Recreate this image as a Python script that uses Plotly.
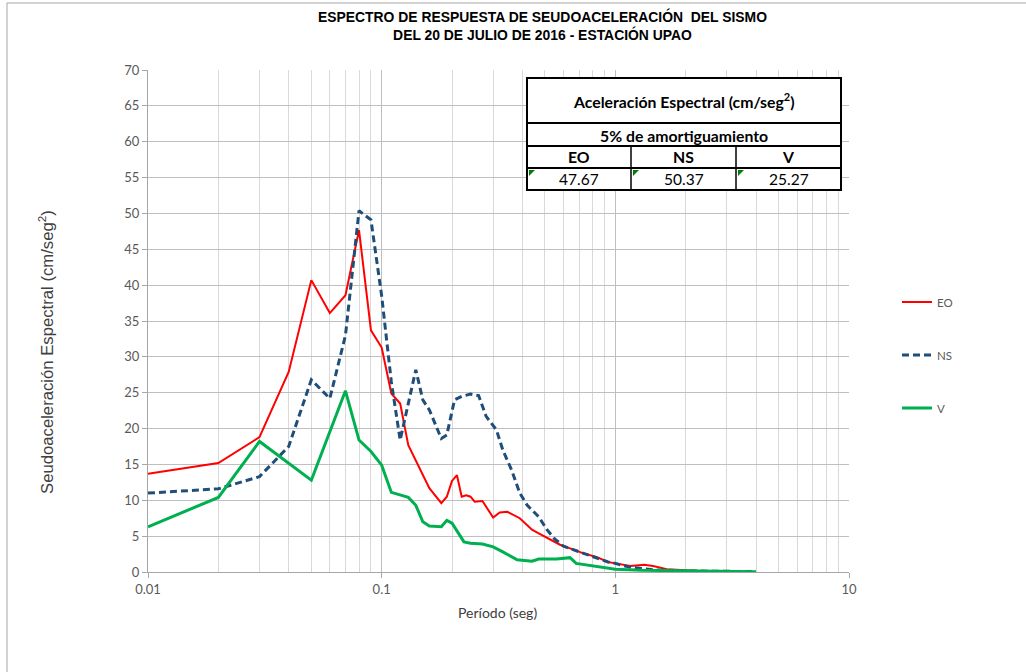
import plotly.graph_objects as go

# ---------------- data ----------------
T_EO = [0.01, 0.02, 0.03, 0.04, 0.05, 0.06, 0.07, 0.08, 0.09, 0.10, 0.11, 0.12, 0.13, 0.145,
        0.16, 0.18, 0.19, 0.20, 0.21, 0.22, 0.23, 0.24, 0.25, 0.27, 0.30, 0.32, 0.345, 0.39,
        0.44, 0.47, 0.52, 0.58, 0.64, 0.73, 0.83, 0.93, 1.0, 1.16, 1.33, 1.45, 1.66, 2.0, 2.3]
EO = [13.7, 15.2, 18.8, 27.9, 40.7, 36.1, 38.6, 47.67, 33.7, 31.3, 24.9, 23.5, 17.7, 14.5,
      11.7, 9.6, 10.5, 12.7, 13.5, 10.5, 10.7, 10.5, 9.8, 9.9, 7.6, 8.3, 8.4, 7.5,
      5.9, 5.4, 4.6, 3.8, 3.3, 2.6, 2.1, 1.4, 1.2, 0.84, 1.0, 0.84, 0.4, 0.25, 0.15]

T_NS = [0.01, 0.02, 0.03, 0.04, 0.05, 0.06, 0.07, 0.08, 0.09, 0.10, 0.11, 0.12, 0.14, 0.15,
        0.16, 0.18, 0.19, 0.205, 0.22, 0.24, 0.26, 0.28, 0.31, 0.33, 0.36, 0.39, 0.42, 0.47,
        0.51, 0.55, 0.60, 0.70, 0.80, 0.93, 1.0, 1.16, 1.45, 2.0, 4.0]
NS = [11.0, 11.6, 13.3, 17.5, 26.8, 24.2, 33.0, 50.37, 49.1, 38.5, 26.5, 18.4, 28.2, 24.0,
      22.6, 18.6, 19.1, 24.0, 24.5, 24.8, 24.6, 21.7, 19.8, 17.0, 14.2, 11.0, 9.3, 7.7,
      5.9, 4.6, 3.6, 2.8, 2.1, 1.4, 1.2, 0.65, 0.3, 0.15, 0.05]

T_V = [0.01, 0.02, 0.03, 0.05, 0.07, 0.08, 0.09, 0.10, 0.11, 0.13, 0.14, 0.15, 0.16, 0.18,
       0.19, 0.20, 0.225, 0.24, 0.27, 0.30, 0.33, 0.38, 0.44, 0.47, 0.56, 0.64, 0.68, 0.75,
       0.93, 1.0, 1.3, 2.0, 4.0]
V = [6.3, 10.4, 18.2, 12.8, 25.27, 18.4, 16.8, 14.9, 11.1, 10.4, 9.3, 7.0, 6.4, 6.3,
     7.2, 6.8, 4.2, 4.0, 3.9, 3.5, 2.8, 1.7, 1.5, 1.8, 1.8, 2.0, 1.2, 1.0,
     0.5, 0.4, 0.25, 0.15, 0.05]

SERIES_NAMES = ["EO", "NS", "V"]
PEAKS = ["47.67", "50.37", "25.27"]
X_TICKS = [0.01, 0.1, 1, 10]
X_TICK_TEXT = ["0.01", "0.1", "1", "10"]

TITLE = "ESPECTRO DE RESPUESTA DE SEUDOACELERACIÓN  DEL SISMO<br>DEL 20 DE JULIO DE 2016 - ESTACIÓN UPAO"

# ---------------- layout helpers (pixel -> paper) ----------------
W, H = 1026, 672
L, R, TOP, BOT = 148, 849, 70, 572


def px(x):
    return (x - L) / (R - L)


def py(y):
    return (BOT - y) / (BOT - TOP)


fig = go.Figure()
fig.add_trace(go.Scatter(x=T_EO, y=EO, mode="lines", name="EO", legendgroup="a",
                         line=dict(color="#FF0000", width=2)))
fig.add_trace(go.Scatter(x=T_NS, y=NS, mode="lines", name="NS", legendgroup="b",
                         line=dict(color="#1F4E79", width=3, dash="7px,4px")))
fig.add_trace(go.Scatter(x=T_V, y=V, mode="lines", name="V", legendgroup="c",
                         line=dict(color="#00B050", width=3)))

minor_vals = [m * 10 ** e for e in (-2, -1, 0) for m in range(2, 10)]

fig.update_xaxes(type="log", range=[-2, 1], tickvals=X_TICKS, ticktext=X_TICK_TEXT,
                 showgrid=True, gridcolor="#BFBFBF", gridwidth=1,
                 minor=dict(tickvals=minor_vals, showgrid=True, gridcolor="#D9D9D9",
                            gridwidth=1, ticks=""),
                 ticks="outside", ticklen=5, tickcolor="#A6A6A6",
                 showline=True, linecolor="#A6A6A6", linewidth=1,
                 tickfont=dict(family="Lato", size=13, color="#595959"), zeroline=False)
fig.update_yaxes(range=[0, 70], dtick=5, showgrid=True, gridcolor="#BFBFBF", gridwidth=1,
                 ticks="outside", ticklen=5, tickcolor="#A6A6A6",
                 showline=True, linecolor="#A6A6A6", linewidth=1,
                 tickfont=dict(family="Lato", size=13, color="#595959"), zeroline=False)

shapes = []
annotations = []

# page frame
shapes.append(dict(type="line", xref="paper", yref="paper", x0=px(7), x1=px(1030),
                   y0=py(3), y1=py(3), line=dict(color="#A6A6A6", width=1)))
shapes.append(dict(type="line", xref="paper", yref="paper", x0=px(7), x1=px(7),
                   y0=py(3), y1=py(700), line=dict(color="#A6A6A6", width=1)))

# table
tx0, tx1 = 527, 841
rows = [78, 123, 146, 168, 190]
cols = [527, 631, 736, 841]
shapes.append(dict(type="rect", xref="paper", yref="paper", x0=px(tx0), x1=px(tx1),
                   y0=py(rows[0]), y1=py(rows[-1]), fillcolor="white",
                   line=dict(color="black", width=2), layer="above"))
for r in rows[1:-1]:
    shapes.append(dict(type="line", xref="paper", yref="paper", x0=px(tx0), x1=px(tx1),
                       y0=py(r), y1=py(r), line=dict(color="black", width=2), layer="above"))
for c in cols[1:-1]:
    shapes.append(dict(type="line", xref="paper", yref="paper", x0=px(c), x1=px(c),
                       y0=py(rows[2]), y1=py(rows[-1]), line=dict(color="black", width=1.5),
                       layer="above"))
# green corner markers in value cells
for c in cols[:-1]:
    x0 = c + 2
    y0 = rows[3] + 2
    path = "M {} {} L {} {} L {} {} Z".format(px(x0), py(y0), px(x0 + 6), py(y0), px(x0), py(y0 + 6))
    shapes.append(dict(type="path", xref="paper", yref="paper", path=path,
                       fillcolor="#008000", line=dict(width=0), layer="above"))

tfont_b = dict(family="Lato", size=15.8, color="black")
annotations.append(dict(text="<b>Aceleración Espectral (cm/seg<sup>2</sup>)</b>", xref="paper", yref="paper",
                        x=px(684), y=py(101), showarrow=False, font=tfont_b,
                        xanchor="center", yanchor="middle"))
annotations.append(dict(text="<b>5% de amortiguamiento</b>", xref="paper", yref="paper",
                        x=px(684), y=py(135), showarrow=False, font=tfont_b,
                        xanchor="center", yanchor="middle"))
for i, name in enumerate(SERIES_NAMES):
    cx = (cols[i] + cols[i + 1]) / 2
    annotations.append(dict(text="<b>" + name + "</b>", xref="paper", yref="paper",
                            x=px(cx), y=py(157), showarrow=False, font=tfont_b,
                            xanchor="center", yanchor="middle"))
    annotations.append(dict(text=PEAKS[i], xref="paper", yref="paper",
                            x=px(cx), y=py(179), showarrow=False,
                            font=dict(family="Lato", size=15.5, color="black"),
                            xanchor="center", yanchor="middle"))

# title
annotations.append(dict(text="<b>" + TITLE + "</b>", xref="paper", yref="paper",
                        x=px(542), y=py(25.5), showarrow=False,
                        font=dict(family="Liberation Sans", size=13.9, color="#000000"),
                        xanchor="center", yanchor="middle"))
# axis titles
annotations.append(dict(text="Seudoaceleración Espectral (cm/seg<sup>2</sup>)", xref="paper", yref="paper",
                        x=px(46), y=py(352), showarrow=False, textangle=-90,
                        font=dict(family="Liberation Sans", size=16.7, color="#404040"),
                        xanchor="center", yanchor="middle"))
annotations.append(dict(text="Período (seg)", xref="paper", yref="paper",
                        x=px(497), y=py(612), showarrow=False,
                        font=dict(family="Lato", size=14, color="#404040"),
                        xanchor="center", yanchor="middle"))

fig.update_layout(
    width=W, height=H,
    margin=dict(l=L, r=W - R, t=TOP, b=H - BOT, pad=0),
    paper_bgcolor="white", plot_bgcolor="white",
    shapes=shapes, annotations=annotations,
    showlegend=True,
    legend=dict(x=px(897), y=py(355), xanchor="left", yanchor="middle",
                font=dict(family="Lato", size=11.5, color="#595959"),
                tracegroupgap=34, bgcolor="rgba(0,0,0,0)"),
)

fig.write_html("out.html")
